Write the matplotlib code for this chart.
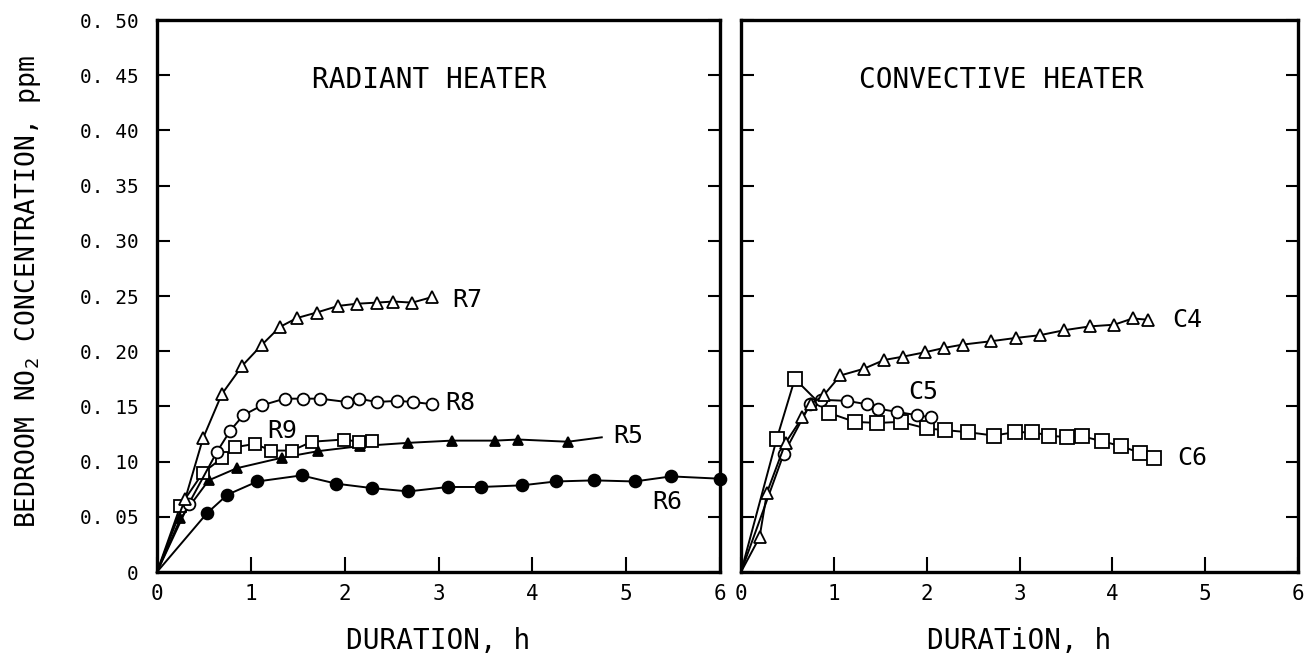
import numpy as np
import matplotlib.pyplot as plt

plt.rcParams['font.family'] = ['DejaVu Sans Mono']
plt.rcParams['mathtext.default'] = 'regular'

# radiant heater runs (hours, ppm); first entry is the origin
r7_t = [0, 0.30, 0.49, 0.69, 0.91, 1.12, 1.31, 1.49, 1.70, 1.93, 2.13, 2.34, 2.52, 2.72, 2.93]
r7_c = [0, 0.066, 0.121, 0.161, 0.187, 0.206, 0.222, 0.230, 0.235, 0.241, 0.243, 0.244, 0.245, 0.244, 0.249]
r8_t = [0, 0.34, 0.64, 0.78, 0.92, 1.12, 1.36, 1.56, 1.74, 2.02, 2.15, 2.34, 2.56, 2.73, 2.93]
r8_c = [0, 0.062, 0.109, 0.128, 0.142, 0.151, 0.157, 0.157, 0.157, 0.154, 0.157, 0.154, 0.155, 0.154, 0.152]
r9_t = [0, 0.25, 0.49, 0.69, 0.83, 1.04, 1.22, 1.44, 1.65, 1.99, 2.15, 2.29]
r9_c = [0, 0.060, 0.090, 0.103, 0.113, 0.116, 0.110, 0.110, 0.118, 0.120, 0.118, 0.119]
r5_t = [0, 0.25, 0.55, 0.85, 1.33, 1.72, 2.16, 2.68, 3.14, 3.60, 3.85, 4.38, 4.74]
r5_c = [0, 0.0485, 0.083, 0.094, 0.1035, 0.1095, 0.114, 0.117, 0.119, 0.119, 0.120, 0.118, 0.122]
r6_t = [0, 0.53, 0.75, 1.07, 1.54, 1.91, 2.29, 2.68, 3.10, 3.45, 3.89, 4.25, 4.66, 5.09, 5.48, 6.0]
r6_c = [0, 0.053, 0.070, 0.082, 0.0875, 0.080, 0.076, 0.073, 0.077, 0.077, 0.0785, 0.082, 0.083, 0.082, 0.0866, 0.0845]

# convective heater runs
c4_t = [0, 0.20, 0.28, 0.48, 0.66, 0.75, 0.89, 1.07, 1.32, 1.54, 1.74, 1.98, 2.19, 2.39, 2.69, 2.96,
        3.22, 3.48, 3.76, 4.02, 4.22, 4.38]
c4_c = [0, 0.0315, 0.072, 0.117, 0.140, 0.152, 0.160, 0.178, 0.184, 0.192, 0.195, 0.199, 0.203, 0.206,
        0.209, 0.212, 0.2145, 0.219, 0.2225, 0.224, 0.2297, 0.2285]
c5_t = [0, 0.46, 0.745, 0.865, 1.14, 1.355, 1.475, 1.68, 1.90, 2.05]
c5_c = [0, 0.107, 0.152, 0.156, 0.155, 0.152, 0.148, 0.145, 0.142, 0.140]
c6_t = [0, 0.385, 0.58, 0.95, 1.225, 1.47, 1.72, 2.0, 2.20, 2.45, 2.72, 2.95, 3.14, 3.32, 3.51, 3.67,
        3.89, 4.09, 4.30, 4.45]
c6_c = [0, 0.1206, 0.175, 0.144, 0.136, 0.135, 0.136, 0.130, 0.1285, 0.1266, 0.1236, 0.1266, 0.1266,
        0.1236, 0.122, 0.123, 0.1185, 0.114, 0.108, 0.1035]

y_ticks = [0, 0.05, 0.10, 0.15, 0.20, 0.25, 0.30, 0.35, 0.40, 0.45, 0.50]
y_labels = ['0', '0. 05', '0. 10', '0. 15', '0. 20', '0. 25', '0. 30', '0. 35', '0. 40', '0. 45', '0. 50']
x_ticks = [0, 1, 2, 3, 4, 5, 6]


def curve(ax, t, c, marker, filled, ms=8.5, last_marker=True):
    face = 'black' if filled else 'white'
    stop = None if last_marker else -1
    ax.plot(t, c, color='black', lw=1.4, marker=marker, ms=ms, mfc=face, mec='black', mew=1.3,
            markevery=slice(1, stop), clip_on=False, zorder=3)


def style(ax, xlabel):
    ax.set_xlim(0, 6)
    ax.set_ylim(0, 0.5)
    ax.set_xticks(x_ticks)
    ax.set_yticks(y_ticks)
    for s in ax.spines.values():
        s.set_linewidth(2.4)
    ax.tick_params(axis='y', direction='in', length=9, width=1.5, left=True, right=True, labelsize=14, pad=13)
    ax.tick_params(axis='x', direction='in', length=11, width=1.5, labelsize=15, pad=9)
    ax.set_xlabel(xlabel, fontsize=20, labelpad=16)


fig = plt.figure(figsize=(13.16, 6.61), dpi=100)
ax1 = fig.add_axes([157 / 1316, 89 / 661, 563 / 1316, 552 / 661])
ax2 = fig.add_axes([741 / 1316, 89 / 661, 557 / 1316, 552 / 661])

curve(ax1, r6_t, r6_c, 'o', True, ms=8.5)
curve(ax1, r5_t, r5_c, '^', True, ms=7, last_marker=False)
curve(ax1, r9_t, r9_c, 's', False, ms=9)
curve(ax1, r8_t, r8_c, 'o', False, ms=8.5)
curve(ax1, r7_t, r7_c, '^', False, ms=8.5)
style(ax1, 'DURATION, h')
ax1.set_yticklabels(y_labels)
ax1.text(2.9, 0.446, 'RADIANT HEATER', fontsize=20, ha='center', va='center')
ax1.text(3.15, 0.246, 'R7', fontsize=18, va='center')
ax1.text(3.07, 0.153, 'R8', fontsize=18, va='center')
ax1.text(1.18, 0.128, 'R9', fontsize=18, va='center')
ax1.text(4.86, 0.123, 'R5', fontsize=18, va='center')
ax1.text(5.28, 0.063, 'R6', fontsize=18, va='center')

curve(ax2, c6_t, c6_c, 's', False, ms=9.5)
curve(ax2, c5_t, c5_c, 'o', False, ms=8.5)
curve(ax2, c4_t, c4_c, '^', False, ms=8.5)
style(ax2, 'DURATiON, h')
ax2.set_yticklabels([])
ax2.text(2.8, 0.446, 'CONVECTIVE HEATER', fontsize=20, ha='center', va='center')
ax2.text(4.65, 0.228, 'C4', fontsize=18, va='center')
ax2.text(1.8, 0.163, 'C5', fontsize=18, va='center')
ax2.text(4.7, 0.103, 'C6', fontsize=18, va='center')

fig.text(28 / 1316, 0.56, 'BEDROOM NO$_2$ CONCENTRATION, ppm', rotation=90, fontsize=19,
         ha='center', va='center')

fig.savefig('out.png', dpi=100)
